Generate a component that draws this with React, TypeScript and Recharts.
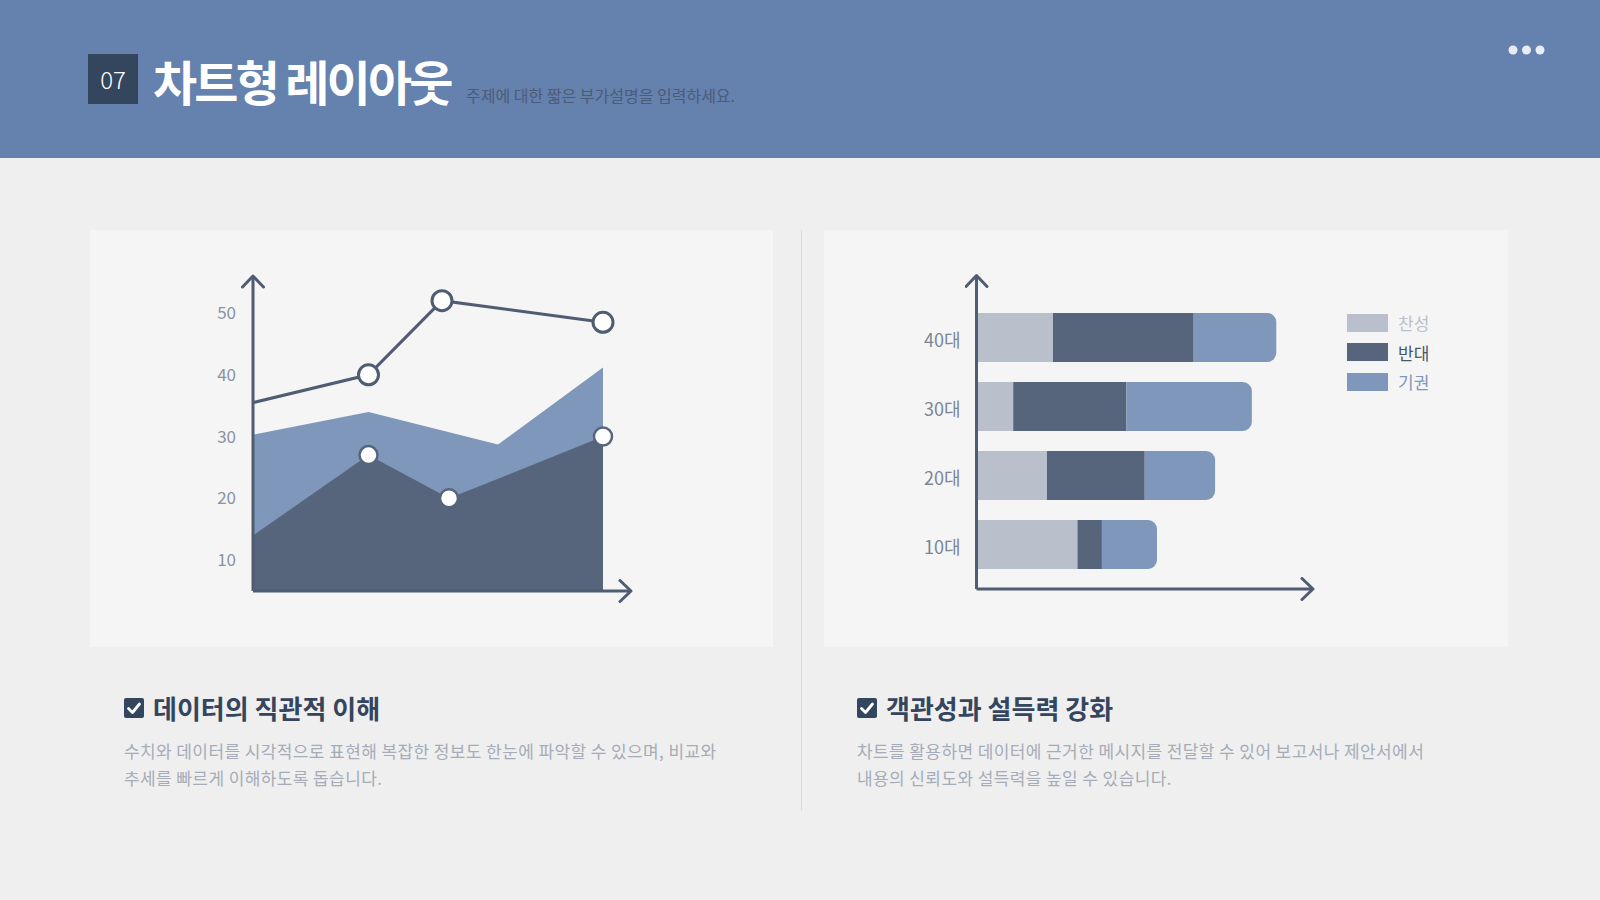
import React from "react"
import {
  Area,
  Bar,
  BarChart,
  ComposedChart,
  Legend,
  Line,
  XAxis,
  YAxis,
} from "recharts"

// left chart: x positions (0-100 along the axis) and the three series
const xPos = [0, 33, 54, 56, 70, 100]
const lineVals = [35.5, 40, 52, null, null, 48.5]
const darkVals = [14, 27, null, 20, null, 30]
const lightVals = [30.3, 34, null, null, 28.7, 41.2]
const yTicks = [10, 20, 30, 40, 50]

// right chart: stacked bars by age group
const ageGroups = ["40대", "30대", "20대", "10대"]
const seriesNames = ["찬성", "반대", "기권"]
const agree = [25, 12, 23, 33]
const oppose = [46, 37, 32, 8]
const abstain = [27, 41, 23, 18]

const FONT = "'Noto Sans CJK KR', 'Noto Sans', sans-serif"
const AXIS = "#4f5c72"
const DARK = "#56657b"
const LIGHT = "#7e97bb"
const GRAY = "#b9c0cb"
const NAVY = "#34455e"

const areaData = xPos.map((x, i) => ({
  x,
  line: lineVals[i],
  dark: darkVals[i],
  light: lightVals[i],
}))

const barData = ageGroups.map((age, i) => ({
  age,
  agree: agree[i],
  oppose: oppose[i],
  abstain: abstain[i],
}))

const makeDot = (key: string, stroke: string, r: number, sw: number) => (props: any) => {
  const { cx, cy, payload, index } = props
  if (!payload || payload[key] == null || payload.x === 0 || cy == null) {
    return <g key={`${key}-${index}`} />
  }
  return <circle key={`${key}-${index}`} cx={cx} cy={cy} r={r} fill="#fff" stroke={stroke} strokeWidth={sw} />
}

function ArrowDef({ id }: { id: string }) {
  return (
    <defs>
      <marker
        id={id}
        viewBox="0 0 24 24"
        markerWidth={24}
        markerHeight={24}
        refX={21}
        refY={12}
        markerUnits="userSpaceOnUse"
        orient="auto-start-reverse"
      >
        <path d="M10,1.5 L21,12 L10,22.5" fill="none" stroke={AXIS} strokeWidth={3} strokeLinecap="round" strokeLinejoin="round" />
      </marker>
    </defs>
  )
}

function AreaLineChart() {
  return (
    <ComposedChart width={683} height={417} data={areaData} margin={{ top: 46, right: 142, bottom: 55, left: 103 }}>
      <ArrowDef id="arrowA" />
      <XAxis
        type="number"
        dataKey="x"
        domain={[0, 108]}
        height={1}
        tick={false}
        tickLine={false}
        axisLine={{ stroke: AXIS, strokeWidth: 3, markerEnd: "url(#arrowA)" }}
      />
      <YAxis
        type="number"
        domain={[5, 56]}
        ticks={yTicks}
        width={60}
        allowDataOverflow
        tickLine={false}
        tickSize={0}
        tickMargin={17}
        tick={{ fill: "#8a93a3", fontSize: 17, fontFamily: FONT }}
        axisLine={{ stroke: AXIS, strokeWidth: 3, markerStart: "url(#arrowA)" }}
      />
      <Area dataKey="light" type="linear" stroke="none" fill={LIGHT} fillOpacity={1} connectNulls dot={false} activeDot={false} isAnimationActive={false} />
      <Area dataKey="dark" type="linear" stroke="none" fill={DARK} fillOpacity={1} connectNulls dot={makeDot("dark", DARK, 9, 2.5)} activeDot={false} isAnimationActive={false} />
      <Line dataKey="line" type="linear" stroke={AXIS} strokeWidth={3} connectNulls dot={makeDot("line", AXIS, 10, 3)} activeDot={false} isAnimationActive={false} />
    </ComposedChart>
  )
}

const legendText: Record<string, string> = { 찬성: GRAY, 반대: "#4a5568", 기권: LIGHT }

const legendContent = ({ payload }: any) => {
  const items = [...(payload || [])].sort((a: any, b: any) => seriesNames.indexOf(a.value) - seriesNames.indexOf(b.value))
  return (
    <div style={{ fontFamily: FONT }}>
      {items.map((p: any, i: number) => (
        <div key={i} style={{ display: "flex", alignItems: "center", height: 29.5 }}>
          <div style={{ width: 41, height: 18, background: p.color, marginRight: 10 }} />
          <span style={{ fontSize: 17, color: legendText[p.value] }}>{p.value}</span>
        </div>
      ))}
    </div>
  )
}

function StackedBarChart() {
  return (
    <BarChart width={684} height={417} data={barData} layout="vertical" margin={{ top: 45.5, right: 195, bottom: 57, left: 92.5 }} barSize={49}>
      <ArrowDef id="arrowB" />
      <XAxis
        type="number"
        domain={[0, 110]}
        height={1}
        tick={false}
        tickLine={false}
        axisLine={{ stroke: AXIS, strokeWidth: 3, markerEnd: "url(#arrowB)" }}
      />
      <YAxis
        type="category"
        dataKey="age"
        width={60}
        padding={{ top: 27.5, bottom: 10 }}
        tickLine={false}
        tickSize={0}
        tickMargin={16}
        tick={{ fill: "#7d8595", fontSize: 18, fontFamily: FONT, dy: 3 }}
        axisLine={{ stroke: AXIS, strokeWidth: 3, markerStart: "url(#arrowB)" }}
      />
      <Legend
        layout="vertical"
        align="center"
        verticalAlign="middle"
        content={legendContent}
        wrapperStyle={{ left: 523, top: 78, width: 120 }}
      />
      <Bar dataKey="agree" name={seriesNames[0]} stackId="a" fill={GRAY} isAnimationActive={false} />
      <Bar dataKey="oppose" name={seriesNames[1]} stackId="a" fill={DARK} isAnimationActive={false} />
      <Bar dataKey="abstain" name={seriesNames[2]} stackId="a" fill={LIGHT} radius={[0, 9, 9, 0]} isAnimationActive={false} />
    </BarChart>
  )
}

function CheckIcon({ left, top }: { left: number; top: number }) {
  return (
    <svg width={20} height={20} style={{ position: "absolute", left, top }}>
      <rect x={0} y={0} width={20} height={20} rx={2} fill={NAVY} />
      <path d="M4.5,10.5 L8.5,14.5 L15.5,6" fill="none" stroke="#fff" strokeWidth={2.8} strokeLinecap="round" strokeLinejoin="round" />
    </svg>
  )
}

function Caption({ x, title, lines }: { x: number; title: string; lines: string[] }) {
  return (
    <>
      <CheckIcon left={x} top={698} />
      <div style={{ position: "absolute", left: x + 29, top: 692, fontSize: 26, lineHeight: "32px", fontWeight: 700, color: NAVY, whiteSpace: "nowrap" }}>
        {title}
      </div>
      <div style={{ position: "absolute", left: x, top: 738, fontSize: 17, lineHeight: "26.5px", letterSpacing: 0.4, color: "#a5acb8", whiteSpace: "nowrap" }}>
        {lines.map((l, i) => (
          <div key={i}>{l}</div>
        ))}
      </div>
    </>
  )
}

export default function App() {
  return (
    <div style={{ position: "absolute", left: 0, top: 0, width: 1600, height: 900, background: "#efefef", fontFamily: FONT, overflow: "hidden" }}>
      <div style={{ position: "absolute", left: 0, top: 0, width: 1600, height: 158, background: "#6581ad" }} />
      <div style={{ position: "absolute", left: 88, top: 54, width: 50, height: 50, background: NAVY, color: "#fff", fontSize: 24, fontWeight: 300, lineHeight: "50px", textAlign: "center" }}>
        07
      </div>
      <div style={{ position: "absolute", left: 153, top: 55.5, fontSize: 48, lineHeight: "48px", fontWeight: 700, color: "#fff", whiteSpace: "nowrap", letterSpacing: -2.8 }}>
        차트형 레이아웃
      </div>
      <div style={{ position: "absolute", left: 466, top: 84, fontSize: 16, lineHeight: "22px", color: "#4b5b78", whiteSpace: "nowrap" }}>
        주제에 대한 짧은 부가설명을 입력하세요.
      </div>
      <svg width={50} height={20} style={{ position: "absolute", left: 1503, top: 40 }}>
        {[10, 23.5, 37].map((cx) => (
          <circle key={cx} cx={cx} cy={10} r={4.5} fill="#e8edf5" />
        ))}
      </svg>

      <div style={{ position: "absolute", left: 90, top: 230, width: 683, height: 417, background: "#f5f5f5" }}>
        <AreaLineChart />
      </div>
      <div style={{ position: "absolute", left: 824, top: 230, width: 684, height: 417, background: "#f5f5f5" }}>
        <StackedBarChart />
      </div>
      <div style={{ position: "absolute", left: 801, top: 230, width: 1, height: 581, background: "#dcdcdc" }} />

      <Caption
        x={124}
        title="데이터의 직관적 이해"
        lines={["수치와 데이터를 시각적으로 표현해 복잡한 정보도 한눈에 파악할 수 있으며, 비교와", "추세를 빠르게 이해하도록 돕습니다."]}
      />
      <Caption
        x={857}
        title="객관성과 설득력 강화"
        lines={["차트를 활용하면 데이터에 근거한 메시지를 전달할 수 있어 보고서나 제안서에서", "내용의 신뢰도와 설득력을 높일 수 있습니다."]}
      />
    </div>
  )
}
